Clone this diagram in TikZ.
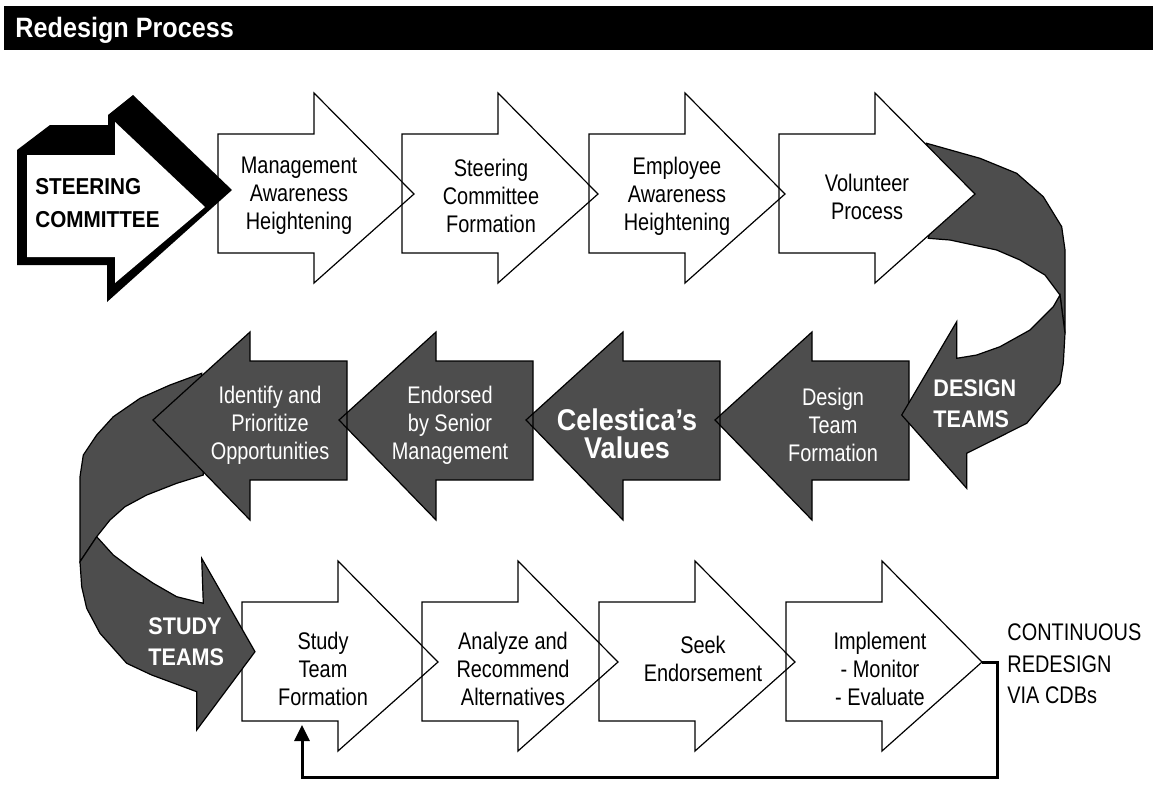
\documentclass[tikz,border=0pt]{standalone}
\usepackage{fontspec}
\setmainfont[FakeStretch=0.83,BoldFeatures={FakeStretch=0.9}]{Liberation Sans}
\usetikzlibrary{arrows.meta}
\definecolor{slate}{RGB}{77,77,77}

\begin{document}
\begin{tikzpicture}[x=0.5pt,y=-0.5pt,line join=miter,
    stepline/.style={draw=black,line width=0.6pt},
    steptext/.style={align=center,inner sep=0pt,font=\fontsize{12pt}{14pt}\selectfont},
    teamtext/.style={align=left,anchor=west,inner sep=0pt,text=white,font=\bfseries\fontsize{12pt}{15.5pt}\selectfont},
    loopback/.style={line width=1.5pt,-{Triangle[length=8pt,width=7.5pt]}}]
  \useasboundingbox (0,0) rectangle (1153,784);

  % title bar
  \fill (4,6) rectangle (1153,50);
  \node[anchor=base west,inner sep=0pt,text=white,font=\bfseries\fontsize{14pt}{16pt}\selectfont] (title) at (15,37) {Redesign Process};

  % bottom row
  \foreach \t in {242,422,599,786}
    \fill[white] (\t,602) -- ++(96,0) -- ++(0,-41) -- ++(100,101) -- ++(-100,89) -- ++(0,-30) -- ++(-96,0) -- cycle;
  \foreach \t in {242,422,599,786}
    \draw[stepline] (\t,602) -- ++(96,0) -- ++(0,-41) -- ++(100,101) -- ++(-100,89) -- ++(0,-30) -- ++(-96,0) -- cycle;
  \node[steptext] (study) at (323,669) {Study\\Team\\Formation};
  \node[steptext] (analyze) at (513,669) {Analyze and\\Recommend\\Alternatives};
  \node[steptext] (seek) at (703,659) {Seek\\Endorsement};
  \node[steptext] (implement) at (880,669) {Implement\\- Monitor\\- Evaluate};

  % study teams ribbon
  \filldraw[fill=slate,stepline] (201.7,373.3) -- (170,385) -- (140,398.3) -- (113.3,416.7) -- (96.7,435) -- (83.3,455) -- (80,476.7) -- (80,561.7) -- (96.7,536.7) -- (110,520) -- (125,506.7) -- (146.7,495) -- (176.7,483.3) -- (203.3,475) -- (200,420) -- cycle;
  \filldraw[fill=slate,stepline] (80,561.7) -- (81.7,586.7) -- (86.7,608.3) -- (100,633.3) -- (126.7,663.3) -- (151.7,675) -- (196.7,691.7) -- (196.7,730) -- (255,651.7) -- (201.7,558.3) -- (203.3,603.3) -- (176.7,596.7) -- (153.3,583.3) -- (133.3,570) -- (113.3,555) -- (96.7,536.7) -- cycle;
  \node[teamtext] (studyteams) at (148,642) {STUDY\\TEAMS};

  % middle row
  \foreach \r in {347,533,720,909}
    \fill[slate] (\r,361) -- ++(-97,0) -- ++(0,-29) -- ++(-97,88) -- ++(97,100) -- ++(0,-40) -- ++(97,0) -- cycle;
  \foreach \r in {347,533,720,909}
    \draw[stepline] (\r,361) -- ++(-97,0) -- ++(0,-29) -- ++(-97,88) -- ++(97,100) -- ++(0,-40) -- ++(97,0) -- cycle;
  \node[steptext,text=white] (identify) at (270,425) {Identify and\\Prioritize\\Opportunities};
  \node[steptext,text=white] (endorsed) at (450,425) {Endorsed\\by Senior\\Management};
  \node[align=center,inner sep=0pt,text=white,font=\bfseries\fontsize{15pt}{14pt}\selectfont] (values) at (627,434) {Celestica’s\\Values};
  \node[steptext,text=white] (design) at (833,425) {Design\\Team\\Formation};

  % design teams ribbon
  \filldraw[fill=slate,stepline] (926.7,143.3) -- (980,158.3) -- (1016.7,173.3) -- (1043.3,196.7) -- (1061.7,226.7) -- (1065,250) -- (1065,333.3) -- (1060,295) -- (1045,275) -- (1020,260) -- (996.7,250) -- (950,240) -- (928.3,238.3) -- (940,195) -- cycle;
  \filldraw[fill=slate,stepline] (1060,295) -- (1065,333.3) -- (1063.3,363.3) -- (1060,383.3) -- (1026.7,423.3) -- (1000,436.7) -- (966.7,453.3) -- (966.7,488.3) -- (901.7,415) -- (956.7,321.7) -- (956.7,358.3) -- (976.7,355) -- (1000,346.7) -- (1030,330) -- (1053.3,306.7) -- cycle;
  \node[teamtext] (designteams) at (933,404) {DESIGN\\TEAMS};

  % top row
  \foreach \t in {218,402,589,779}
    \fill[white] (\t,134) -- ++(96,0) -- ++(0,-41) -- ++(100,101) -- ++(-100,89) -- ++(0,-30) -- ++(-96,0) -- cycle;
  \foreach \t in {218,402,589,779}
    \draw[stepline] (\t,134) -- ++(96,0) -- ++(0,-41) -- ++(100,101) -- ++(-100,89) -- ++(0,-30) -- ++(-96,0) -- cycle;
  \node[steptext] (awareness) at (299,196) {Management\\Awareness\\Heightening};
  \node[steptext] (formation) at (491,196) {Steering\\Committee\\Formation};
  \node[steptext] (employee) at (677,196) {Employee\\Awareness\\Heightening};
  \node[steptext] (volunteer) at (867,197) {Volunteer\\Process};

  % steering committee, solid block arrow
  \fill (17,150) -- (50,125) -- (108,125) -- (108,115) -- (133,95) -- (232,190) -- (107,302) -- (107,265) -- (17,265) -- cycle;
  \fill[white] (27,155) -- (115,155) -- (115,122) -- (205,207) -- (115,283) -- (115,257) -- (27,257) -- cycle;
  \node[align=left,anchor=west,inner sep=0pt,font=\bfseries\fontsize{11.5pt}{16.5pt}\selectfont] (steering) at (35,203) {STEERING\\COMMITTEE};

  % feedback loop
  \coordinate (implement-tip) at (982,662);
  \coordinate (study-foot) at (302,725);
  \draw[loopback] (implement-tip) -- ++(15,0) -- ++(0,115) -| (study-foot);
  \node[align=left,anchor=west,inner sep=0pt,font=\fontsize{12pt}{15.75pt}\selectfont] (cdb) at (1007,664) {CONTINUOUS\\REDESIGN\\VIA CDBs};
\end{tikzpicture}
\end{document}
